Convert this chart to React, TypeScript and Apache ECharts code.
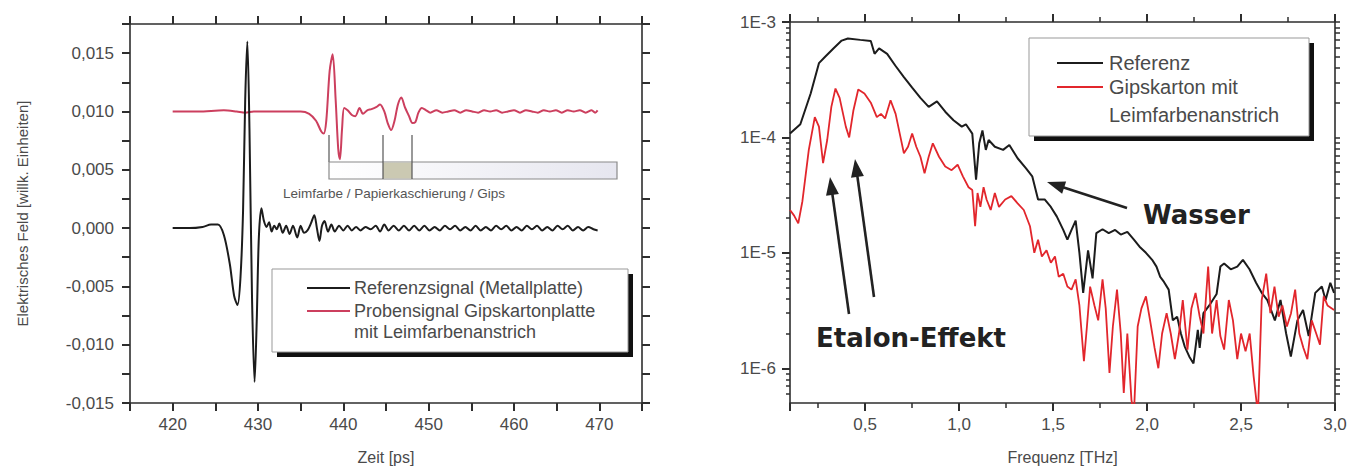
import React, { useEffect, useRef } from 'react';
import * as echarts from 'echarts';

// ---------- Left chart: time-domain signals ----------
const refSignal: [number, number][] = [
  [420.0, 0.0], [422.0, 0.0], [423.5, 0.0001], [424.5, 0.0003], [425.3, 0.0003],
  [426.0, -0.0006], [426.7, -0.0031], [427.2, -0.0058], [427.6, -0.0066], [427.95, -0.0042],
  [428.25, 0.0015], [428.5, 0.011], [428.75, 0.016], [429.0, 0.0085], [429.3, -0.006],
  [429.6, -0.0132], [429.85, -0.008], [430.1, -0.0008], [430.4, 0.0017], [430.7, 0.0006],
  [431.0, 0.0001], [431.3, 0.0005], [431.6, -0.0003], [431.9, 0.0002], [432.2, -0.0001],
  [432.5, 0.0004], [432.9, -0.0004], [433.3, 0.0002], [433.7, -0.0005], [434.1, 0.0002],
  [434.6, -0.0008], [435.0, 0.0002], [435.4, -0.0004], [435.8, -0.0002], [436.2, 0.0004],
  [436.6, 0.0011], [436.9, 0.0], [437.2, -0.0011], [437.5, 0.0002], [437.8, 0.0006],
  [438.2, -0.0003], [438.6, 0.0003], [439.0, -0.0003], [439.5, 0.0002], [440.0, -0.0002],
  [440.5, 0.0002], [441.0, -0.0002], [441.5, 0.0001], [442.0, -0.0002], [442.6, 0.0001],
  [443.2, -0.0001], [443.8, 0.0002], [444.3, -0.0003], [444.8, 0.0003], [445.3, -0.0002],
  [445.9, 0.0002], [446.5, -0.0002], [447.1, 0.0002], [447.7, -0.0002], [448.3, 0.0002],
  [448.9, -0.0002], [449.5, 0.0002], [450.1, -0.0002], [450.7, 0.0001], [451.3, -0.0002],
  [451.9, 0.0002], [452.5, -0.0001], [453.1, 0.0002], [453.7, -0.0002], [454.3, 0.0001],
  [454.9, -0.0002], [455.5, 0.0002], [456.1, -0.0002], [456.7, 0.0001], [457.3, -0.0002],
  [457.9, 0.0002], [458.5, -0.0001], [459.1, 0.0002], [459.7, -0.0002], [460.3, 0.0001],
  [460.9, -0.0002], [461.5, 0.0002], [462.1, -0.0001], [462.7, 0.0002], [463.3, -0.0002],
  [463.9, 0.0001], [464.5, -0.0002], [465.1, 0.0002], [465.7, -0.0001], [466.3, 0.0002],
  [466.9, -0.0002], [467.5, 0.0001], [468.1, -0.0002], [468.7, 0.0001], [469.3, -0.0001],
  [469.8, -0.0002],
];

const sampleSignal: [number, number][] = [
  [420.0, 0.01], [423.0, 0.01], [426.0, 0.0101], [427.5, 0.01], [428.5, 0.0099],
  [429.5, 0.01], [432.0, 0.01], [435.0, 0.01], [436.0, 0.0098], [436.8, 0.0092],
  [437.4, 0.0083], [437.7, 0.0081], [438.0, 0.0092], [438.4, 0.0135], [438.75, 0.0149],
  [439.1, 0.011], [439.4, 0.0068], [439.6, 0.0059], [439.85, 0.0085], [440.1, 0.0103],
  [440.5, 0.0101], [441.0, 0.0097], [441.4, 0.0096], [441.9, 0.0103], [442.3, 0.0098],
  [442.8, 0.0101], [443.3, 0.0102], [443.9, 0.0104], [444.3, 0.0106], [444.8, 0.01],
  [445.2, 0.009], [445.6, 0.0084], [446.0, 0.0092], [446.4, 0.0106], [446.8, 0.0112],
  [447.2, 0.0104], [447.7, 0.0096], [448.1, 0.009], [448.45, 0.0091], [448.8, 0.0099],
  [449.2, 0.0103], [449.7, 0.0101], [450.2, 0.0099], [450.9, 0.0101], [451.6, 0.0099],
  [452.3, 0.01], [453.0, 0.0101], [453.7, 0.0099], [454.4, 0.0101], [455.1, 0.01],
  [455.8, 0.0099], [456.5, 0.0101], [457.2, 0.01], [457.9, 0.0101], [458.6, 0.0099],
  [459.3, 0.01], [460.0, 0.0101], [460.7, 0.0099], [461.4, 0.0101], [462.1, 0.01],
  [462.8, 0.0099], [463.5, 0.0101], [464.2, 0.01], [464.9, 0.0101], [465.6, 0.0099],
  [466.3, 0.0101], [467.0, 0.01], [467.7, 0.0101], [468.4, 0.0099], [469.1, 0.0101],
  [469.5, 0.0099], [469.8, 0.0101],
];

// ---------- Right chart: spectra ----------
const refSpectrum: [number, number][] = [
  [0.1, 1.08e-4], [0.155, 1.3e-4], [0.21, 2.4e-4], [0.254, 4.4e-4], [0.287, 5.0e-4],
  [0.331, 5.9e-4], [0.375, 6.9e-4], [0.408, 7.2e-4], [0.474, 7.0e-4], [0.53, 6.85e-4],
  [0.55, 5.3e-4], [0.574, 5.9e-4], [0.617, 5.3e-4], [0.66, 4.2e-4], [0.705, 3.35e-4],
  [0.75, 2.7e-4], [0.794, 2.2e-4], [0.838, 1.84e-4], [0.882, 2.05e-4], [0.926, 1.67e-4],
  [0.97, 1.41e-4], [1.014, 1.24e-4], [1.036, 1.3e-4], [1.07, 1.08e-4], [1.09, 4.3e-5],
  [1.107, 8.9e-5], [1.124, 1.15e-4], [1.142, 7.8e-5], [1.157, 9.5e-5], [1.19, 8.3e-5],
  [1.234, 7.8e-5], [1.267, 8.6e-5], [1.311, 6.6e-5], [1.356, 5.4e-5], [1.389, 4.6e-5],
  [1.42, 2.9e-5], [1.455, 2.9e-5], [1.488, 2.5e-5], [1.52, 2.06e-5], [1.554, 1.58e-5],
  [1.576, 1.3e-5], [1.598, 1.58e-5], [1.62, 1.9e-5], [1.64, 1.0e-5], [1.66, 4.5e-6],
  [1.686, 1.05e-5], [1.71, 6.0e-6], [1.73, 1.48e-5], [1.763, 1.6e-5], [1.796, 1.48e-5],
  [1.83, 1.58e-5], [1.86, 1.44e-5], [1.895, 1.52e-5], [1.93, 1.3e-5], [1.96, 1.13e-5],
  [1.994, 1.0e-5], [2.027, 8.7e-6], [2.05, 7.6e-6], [2.07, 6.2e-6], [2.09, 5.6e-6],
  [2.115, 4.8e-6], [2.137, 2.6e-6], [2.16, 2.8e-6], [2.18, 2.0e-6], [2.2, 1.55e-6],
  [2.225, 1.26e-6], [2.247, 1.1e-6], [2.27, 2.15e-6], [2.28, 1.5e-6], [2.3, 3.0e-6],
  [2.336, 3.6e-6], [2.37, 4.4e-6], [2.39, 7.6e-6], [2.41, 8.1e-6], [2.445, 7.2e-6],
  [2.48, 7.6e-6], [2.51, 8.7e-6], [2.545, 7.2e-6], [2.58, 5.5e-6], [2.61, 4.5e-6],
  [2.64, 3.9e-6], [2.68, 2.6e-6], [2.71, 3.9e-6], [2.74, 2.0e-6], [2.765, 1.26e-6],
  [2.8, 2.6e-6], [2.83, 3.2e-6], [2.86, 1.9e-6], [2.895, 4.5e-6], [2.93, 5.1e-6],
  [2.95, 3.9e-6], [2.975, 5.5e-6], [2.995, 4.5e-6],
];

const sampleSpectrum: [number, number][] = [
  [0.1, 2.35e-5], [0.122, 2.1e-5], [0.144, 1.8e-5], [0.166, 2.8e-5], [0.2, 7.8e-5],
  [0.232, 1.5e-4], [0.254, 1.24e-4], [0.276, 6.0e-5], [0.298, 9.5e-5], [0.32, 1.84e-4],
  [0.342, 2.65e-4], [0.364, 2.2e-4], [0.397, 1.24e-4], [0.415, 1.0e-4], [0.437, 1.7e-4],
  [0.463, 2.6e-4], [0.496, 2.4e-4], [0.53, 2.0e-4], [0.562, 1.5e-4], [0.584, 1.6e-4],
  [0.606, 1.46e-4], [0.635, 2.1e-4], [0.662, 1.6e-4], [0.684, 1.08e-4], [0.706, 7.3e-5],
  [0.728, 8.3e-5], [0.75, 1.08e-4], [0.772, 8.3e-5], [0.794, 6.8e-5], [0.816, 4.9e-5],
  [0.838, 6.8e-5], [0.86, 8.9e-5], [0.893, 6.8e-5], [0.926, 5.6e-5], [0.96, 5.2e-5],
  [0.992, 5.8e-5], [1.02, 4.6e-5], [1.05, 3.7e-5], [1.07, 3.5e-5], [1.085, 1.7e-5],
  [1.098, 3.3e-5], [1.113, 2.5e-5], [1.13, 3.7e-5], [1.146, 2.9e-5], [1.168, 2.35e-5],
  [1.19, 3.3e-5], [1.212, 2.5e-5], [1.245, 2.9e-5], [1.278, 3.1e-5], [1.31, 2.7e-5],
  [1.344, 2.35e-5], [1.377, 1.7e-5], [1.4, 1.0e-5], [1.42, 1.3e-5], [1.44, 9.3e-6],
  [1.465, 1.05e-5], [1.488, 8.2e-6], [1.51, 9.3e-6], [1.53, 6.2e-6], [1.554, 6.6e-6],
  [1.576, 5.1e-6], [1.598, 4.8e-6], [1.62, 5.9e-6], [1.64, 3.5e-6], [1.664, 1.15e-6],
  [1.68, 2.3e-6], [1.697, 5.1e-6], [1.72, 3.5e-6], [1.74, 2.6e-6], [1.763, 5.9e-6],
  [1.78, 3.3e-6], [1.8, 9.1e-7], [1.818, 2.3e-6], [1.84, 4.8e-6], [1.86, 2.0e-6],
  [1.876, 6.1e-7], [1.895, 2.0e-6], [1.917, 5.3e-7], [1.93, 4.0e-7], [1.95, 2.3e-6],
  [1.97, 3.3e-6], [1.994, 4.2e-6], [2.016, 2.6e-6], [2.04, 1.5e-6], [2.06, 1.0e-6],
  [2.08, 2.0e-6], [2.104, 3.0e-6], [2.126, 2.0e-6], [2.148, 1.2e-6], [2.17, 2.0e-6],
  [2.19, 3.9e-6], [2.215, 1.45e-6], [2.236, 3.3e-6], [2.258, 4.5e-6], [2.28, 2.8e-6],
  [2.3, 2.0e-6], [2.325, 7.6e-6], [2.346, 2.0e-6], [2.37, 3.9e-6], [2.39, 1.9e-6],
  [2.41, 1.45e-6], [2.435, 3.9e-6], [2.457, 2.6e-6], [2.48, 1.2e-6], [2.5, 2.0e-6],
  [2.524, 1.4e-6], [2.546, 2.0e-6], [2.567, 8.5e-7], [2.59, 4.0e-7], [2.61, 3.9e-6],
  [2.634, 6.6e-6], [2.656, 3.0e-6], [2.678, 5.1e-6], [2.7, 2.8e-6], [2.72, 3.5e-6],
  [2.744, 2.3e-6], [2.766, 3.0e-6], [2.788, 4.8e-6], [2.81, 2.0e-6], [2.832, 1.5e-6],
  [2.853, 1.2e-6], [2.876, 2.6e-6], [2.9, 2.0e-6], [2.92, 1.6e-6], [2.94, 4.2e-6],
  [2.96, 3.5e-6], [2.995, 3.2e-6],
];

// ---------- tick values / labels ----------
const logMajorTicks = [1e-6, 1e-5, 1e-4, 1e-3];
const logMinorTicks = [
  6e-7, 7e-7, 8e-7, 9e-7,
  2e-6, 3e-6, 4e-6, 5e-6, 6e-6, 7e-6, 8e-6, 9e-6,
  2e-5, 3e-5, 4e-5, 5e-5, 6e-5, 7e-5, 8e-5, 9e-5,
  2e-4, 3e-4, 4e-4, 5e-4, 6e-4, 7e-4, 8e-4, 9e-4,
];

const NAMES = {
  ref: 'Referenzsignal (Metallplatte)',
  sample: 'Probensignal Gipskartonplatte\nmit Leimfarbenanstrich',
  refSpec: 'Referenz',
  sampleSpec: 'Gipskarton mit\nLeimfarbenanstrich',
};

const FONT = '"Liberation Sans", Arial, sans-serif';
const BOLD = '"DejaVu Sans", Verdana, sans-serif';
const LABEL_COLOR = '#4a4a4a';
const AXIS_COLOR = '#2e2e2e';

const isMult = (v: number, m: number) => Math.abs(v / m - Math.round(v / m)) < 1e-6;

function arrow(x1: number, y1: number, x2: number, y2: number) {
  const len = Math.hypot(x2 - x1, y2 - y1);
  const ux = (x2 - x1) / len;
  const uy = (y2 - y1) / len;
  const hl = 18;
  const hw = 6.5;
  const bx = x2 - ux * hl;
  const by = y2 - uy * hl;
  return [
    {
      type: 'line',
      z: 100,
      shape: { x1, y1, x2: bx + ux * 2, y2: by + uy * 2 },
      style: { stroke: '#222', lineWidth: 2.6 },
    },
    {
      type: 'polygon',
      z: 100,
      shape: {
        points: [
          [x2, y2],
          [bx - uy * hw, by + ux * hw],
          [bx + uy * hw, by - ux * hw],
        ],
      },
      style: { fill: '#222' },
    },
  ];
}

const axisLine = () => ({ show: true, onZero: false, lineStyle: { color: AXIS_COLOR, width: 1.6 } });
const tick = () => ({ show: true, length: 8, lineStyle: { color: AXIS_COLOR, width: 2 } });
const labelStyle = { color: LABEL_COLOR, fontSize: 17, fontFamily: FONT };

function buildOption() {
  return {
    animation: false,
    backgroundColor: '#fff',
    grid: [
      { left: 130, top: 24, width: 512, height: 379, outerBoundsMode: 'none' },
      { left: 790, top: 22, width: 545, height: 381, outerBoundsMode: 'none' },
    ],
    xAxis: [
      {
        gridIndex: 0, type: 'value', position: 'bottom', min: 415, max: 475, interval: 5,
        name: 'Zeit [ps]', nameLocation: 'middle', nameGap: 46, nameMoveOverlap: false,
        nameTextStyle: { color: LABEL_COLOR, fontSize: 16, fontFamily: FONT },
        axisLine: axisLine(), axisTick: tick(),
        axisLabel: { ...labelStyle, margin: 13, formatter: (v: number) => (isMult(v, 10) ? String(Math.round(v)) : '') },
        splitLine: { show: false },
      },
      {
        gridIndex: 0, type: 'value', position: 'top', min: 415, max: 475, interval: 5,
        axisLine: axisLine(), axisTick: tick(),
        axisLabel: { show: false }, splitLine: { show: false },
      },
      {
        gridIndex: 1, type: 'value', position: 'bottom', min: 0.1, max: 3.0,
        name: 'Frequenz [THz]', nameLocation: 'middle', nameGap: 46, nameMoveOverlap: false,
        nameTextStyle: { color: LABEL_COLOR, fontSize: 16, fontFamily: FONT },
        axisLine: axisLine(), axisTick: tick(),
        minorTick: { show: true, splitNumber: 2, length: 5, lineStyle: { color: AXIS_COLOR, width: 1.5 } },
        axisLabel: {
          ...labelStyle, margin: 13,
          formatter: (v: number) => (isMult(v, 0.5) ? v.toFixed(1).replace('.', ',') : ''),
        },
        splitLine: { show: false }, minorSplitLine: { show: false },
      },
      {
        gridIndex: 1, type: 'value', position: 'top', min: 0.1, max: 3.0,
        axisLine: axisLine(), axisTick: tick(),
        minorTick: { show: true, splitNumber: 2, length: 5, lineStyle: { color: AXIS_COLOR, width: 1.5 } },
        axisLabel: { show: false }, splitLine: { show: false },
      },
    ],
    yAxis: [
      {
        gridIndex: 0, type: 'value', position: 'left', min: -0.015, max: 0.0175, interval: 0.0025,
        name: 'Elektrisches Feld [willk. Einheiten]', nameLocation: 'middle', nameGap: 100,
        nameRotate: 90, nameMoveOverlap: false,
        nameTextStyle: { color: LABEL_COLOR, fontSize: 15, fontFamily: FONT },
        axisLine: axisLine(), axisTick: tick(),
        axisLabel: {
          ...labelStyle, margin: 16,
          formatter: (v: number) =>
            isMult(v, 0.005) ? (Math.round(v / 0.005) * 0.005).toFixed(3).replace('.', ',') : '',
        },
        splitLine: { show: false },
      },
      {
        gridIndex: 0, type: 'value', position: 'right', min: -0.015, max: 0.0175, interval: 0.0025,
        axisLine: axisLine(), axisTick: tick(),
        axisLabel: { show: false }, splitLine: { show: false },
      },
      {
        gridIndex: 1, type: 'log', position: 'left', min: 5e-7, max: 1e-3, logBase: 10,
        axisLine: axisLine(), axisTick: { ...tick(), customValues: logMajorTicks },
        axisLabel: {
          ...labelStyle, margin: 14, customValues: logMajorTicks,
          formatter: (v: number) => {
            const e = Math.log10(v);
            return Math.abs(e - Math.round(e)) < 1e-6 ? `1E${Math.round(e)}` : '';
          },
        },
        splitLine: { show: false },
      },
      {
        gridIndex: 1, type: 'log', position: 'right', min: 5e-7, max: 1e-3, logBase: 10,
        axisLine: axisLine(),
        axisTick: { show: true, length: 5, customValues: [...logMajorTicks, ...logMinorTicks], lineStyle: { color: AXIS_COLOR, width: 1.5 } },
        axisLabel: { show: false }, splitLine: { show: false },
      },
      {
        gridIndex: 1, type: 'log', position: 'left', min: 5e-7, max: 1e-3, logBase: 10,
        axisLine: { show: false, onZero: false },
        axisTick: { show: true, length: 4, customValues: logMinorTicks, lineStyle: { color: AXIS_COLOR, width: 1.5 } },
        axisLabel: { show: false }, splitLine: { show: false },
      },
    ],
    series: [
      {
        name: NAMES.sample, type: 'line', xAxisIndex: 0, yAxisIndex: 0, data: sampleSignal,
        showSymbol: false, symbol: 'none', smooth: 0.3,
        lineStyle: { color: '#cc3f5e', width: 2 }, z: 2,
      },
      {
        name: NAMES.ref, type: 'line', xAxisIndex: 0, yAxisIndex: 0, data: refSignal,
        showSymbol: false, symbol: 'none', smooth: 0.3,
        lineStyle: { color: '#1c1c1c', width: 2 }, z: 3,
      },
      {
        name: NAMES.refSpec, type: 'line', xAxisIndex: 2, yAxisIndex: 2, data: refSpectrum,
        showSymbol: false, symbol: 'none', clip: true,
        lineStyle: { color: '#1c1c1c', width: 2 }, z: 2,
      },
      {
        name: NAMES.sampleSpec, type: 'line', xAxisIndex: 2, yAxisIndex: 2, data: sampleSpectrum,
        showSymbol: false, symbol: 'none', clip: true,
        lineStyle: { color: '#e2262c', width: 1.8 }, z: 3,
      },
    ],
    graphic: [
      // ---- inset of left chart ----
      { type: 'line', z: 90, shape: { x1: 329, y1: 135, x2: 329, y2: 162 }, style: { stroke: '#555', lineWidth: 1.2 } },
      {
        type: 'rect', z: 90, shape: { x: 329, y: 162, width: 288, height: 17 },
        style: {
          fill: { type: 'linear', x: 0, y: 0, x2: 1, y2: 0, colorStops: [{ offset: 0, color: '#ffffff' }, { offset: 1, color: '#e6e6ef' }] },
          stroke: '#8a8a8a', lineWidth: 1.2,
        },
      },
      { type: 'rect', z: 91, shape: { x: 383, y: 162.6, width: 29, height: 15.8 }, style: { fill: '#cbc9b2' } },
      { type: 'line', z: 92, shape: { x1: 383, y1: 135, x2: 383, y2: 179 }, style: { stroke: '#555', lineWidth: 1.2 } },
      { type: 'line', z: 92, shape: { x1: 412, y1: 135, x2: 412, y2: 179 }, style: { stroke: '#555', lineWidth: 1.2 } },
      {
        type: 'text', z: 92, x: 283, y: 193,
        style: { text: 'Leimfarbe / Papierkaschierung / Gips', fill: '#555', font: `13.5px ${FONT}`, verticalAlign: 'middle', align: 'left' },
      },
      // ---- legend of left chart ----
      { type: 'rect', z: 95, shape: { x: 277, y: 274, width: 356, height: 83 }, style: { fill: '#111' } },
      { type: 'rect', z: 96, shape: { x: 272, y: 269, width: 356, height: 83 }, style: { fill: '#fff', stroke: '#999', lineWidth: 1 } },
      { type: 'line', z: 97, shape: { x1: 307, y1: 288, x2: 350, y2: 288 }, style: { stroke: '#1c1c1c', lineWidth: 2 } },
      { type: 'text', z: 97, x: 354, y: 288, style: { text: NAMES.ref, fill: LABEL_COLOR, font: `18px ${FONT}`, verticalAlign: 'middle' } },
      { type: 'line', z: 97, shape: { x1: 307, y1: 311, x2: 350, y2: 311 }, style: { stroke: '#cc3f5e', lineWidth: 2 } },
      {
        type: 'text', z: 97, x: 354, y: 300.5,
        style: { text: NAMES.sample, fill: LABEL_COLOR, font: `18px ${FONT}`, lineHeight: 21, verticalAlign: 'top' },
      },
      // ---- legend of right chart ----
      { type: 'rect', z: 95, shape: { x: 1034, y: 43, width: 280, height: 98 }, style: { fill: '#111' } },
      { type: 'rect', z: 96, shape: { x: 1029, y: 38, width: 280, height: 98 }, style: { fill: '#fff', stroke: '#999', lineWidth: 1 } },
      { type: 'line', z: 97, shape: { x1: 1057, y1: 63, x2: 1103, y2: 63 }, style: { stroke: '#1c1c1c', lineWidth: 2 } },
      { type: 'text', z: 97, x: 1109, y: 63, style: { text: NAMES.refSpec, fill: LABEL_COLOR, font: `20px ${FONT}`, verticalAlign: 'middle' } },
      { type: 'line', z: 97, shape: { x1: 1057, y1: 87, x2: 1103, y2: 87 }, style: { stroke: '#e2262c', lineWidth: 2 } },
      {
        type: 'text', z: 97, x: 1109, y: 73,
        style: { text: NAMES.sampleSpec, fill: LABEL_COLOR, font: `20px ${FONT}`, lineHeight: 28, verticalAlign: 'top' },
      },
      // ---- annotations of right chart ----
      { type: 'text', z: 100, x: 1143, y: 215, style: { text: 'Wasser', fill: '#222', font: `bold 26px ${BOLD}`, verticalAlign: 'middle' } },
      { type: 'text', z: 100, x: 816, y: 338, style: { text: 'Etalon-Effekt', fill: '#222', font: `bold 26px ${BOLD}`, verticalAlign: 'middle' } },
      ...arrow(1127, 208, 1047, 182),
      ...arrow(849, 314, 830, 177),
      ...arrow(874, 297, 855, 159),
    ],
  };
}

export default function App() {
  const ref = useRef<HTMLDivElement>(null);
  useEffect(() => {
    if (!ref.current) return;
    const chart = echarts.init(ref.current, null, { renderer: 'svg' });
    chart.setOption(buildOption() as any);
    return () => chart.dispose();
  }, []);
  return (
    <div
      ref={ref}
      style={{ position: 'fixed', left: 0, top: 0, width: 1349, height: 469, background: '#fff' }}
    />
  );
}
